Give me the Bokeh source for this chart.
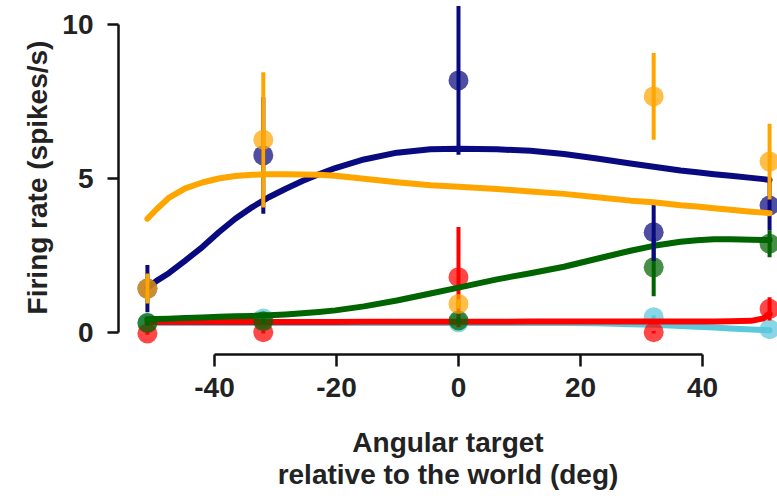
from bokeh.plotting import figure
from bokeh.models import ColumnDataSource, Range1d, FixedTicker, Title
from bokeh.embed import file_html
from bokeh.resources import INLINE

# ---- data ----
target_x = [-51, -32, 0, 32, 51]

navy_y = [1.42, 5.75, 8.19, 3.25, 4.12]
navy_err = [0.77, 1.9, 2.42, 0.93, 0.8]
orange_y = [1.42, 6.26, 0.92, 7.67, 5.55]
orange_err = [0.49, 2.2, 0.15, 1.41, 1.23]
green_y = [0.3, 0.36, 0.38, 2.11, 2.88]
green_err = [0.08, 0.08, 0.1, 0.94, 0.44]
red_y = [-0.04, 0.0, 1.79, 0.0, 0.76]
red_err = [0.04, 0.04, 1.63, 0.04, 0.38]
cyan_y = [0.3, 0.45, 0.32, 0.49, 0.1]
cyan_err = [0.04, 0.06, 0.04, 0.06, 0.04]

fit_x = [-51, -49.5, -47.5, -44.8, -42, -39.3, -36.6, -33.8, -31.1, -28.4, -25.6, -22.9,
         -20.2, -15.5, -10.1, -4.6, 0, 6.3, 11.8, 17.3, 22.7, 28.2, 32, 36.4, 39.1,
         41.9, 44.6, 48, 50, 51]
navy_fit = [1.44, 1.67, 1.92, 2.33, 2.77, 3.25, 3.69, 4.07, 4.39, 4.66, 4.92, 5.14,
            5.34, 5.62, 5.84, 5.95, 5.97, 5.95, 5.90, 5.80, 5.65, 5.49, 5.38, 5.26, 5.20,
            5.14, 5.09, 5.02, 4.98, 4.95]
orange_fit = [3.69, 4.0, 4.37, 4.68, 4.87, 5.0, 5.08, 5.12, 5.14, 5.14, 5.13, 5.12,
              5.09, 4.99, 4.88, 4.78, 4.73, 4.66, 4.58, 4.50, 4.39, 4.28, 4.23, 4.13, 4.09,
              4.03, 3.98, 3.92, 3.89, 3.87]
green_fit = [0.42, 0.43, 0.44, 0.46, 0.48, 0.50, 0.52, 0.53, 0.55, 0.58, 0.62, 0.66,
             0.71, 0.84, 1.03, 1.26, 1.45, 1.72, 1.92, 2.13, 2.39, 2.65, 2.81, 2.94, 2.99,
             3.02, 3.02, 3.01, 3.0, 3.0]
red_fit = [0.33, 0.33, 0.33, 0.33, 0.33, 0.33, 0.33, 0.33, 0.33, 0.33, 0.33, 0.33,
           0.33, 0.34, 0.34, 0.34, 0.34, 0.34, 0.35, 0.35, 0.35, 0.35, 0.35, 0.35, 0.35,
           0.35, 0.36, 0.37, 0.45, 0.6]
cyan_fit = [0.3, 0.3, 0.3, 0.3, 0.3, 0.3, 0.3, 0.3, 0.3, 0.3, 0.3, 0.3,
            0.3, 0.3, 0.3, 0.3, 0.3, 0.3, 0.3, 0.3, 0.29, 0.26, 0.24, 0.2, 0.18,
            0.15, 0.12, 0.09, 0.07, 0.06]

x_ticks = [-40, -20, 0, 20, 40]
x_tick_labels = ["-40", "-20", "0", "20", "40"]
y_ticks = [0, 5, 10]

series = [
    ("cyan", "#5BC8DC", cyan_y, cyan_err, cyan_fit),
    ("red", "#FF0000", red_y, red_err, red_fit),
    ("green", "#006400", green_y, green_err, green_fit),
    ("navy", "#0A0A80", navy_y, navy_err, navy_fit),
    ("orange", "#FFA500", orange_y, orange_err, orange_fit),
]

FONT = "Liberation Sans"
FS = "28px"
TXT = "#222222"

p = figure(width=777, height=502, output_backend="svg", toolbar_location=None,
           x_range=Range1d(-55.74, 52.3), y_range=Range1d(-0.725, 10.79),
           min_border_left=118, min_border_bottom=148, min_border_top=0,
           min_border_right=0)
p.outline_line_color = None
p.xgrid.visible = False
p.ygrid.visible = False
p.background_fill_color = "white"
p.border_fill_color = "white"

for name, col, ys, errs, fit in series:
    lo = [y - e for y, e in zip(ys, errs)]
    hi = [y + e for y, e in zip(ys, errs)]
    src = ColumnDataSource(dict(x=target_x, y=ys, lo=lo, hi=hi))
    p.segment(x0="x", y0="lo", x1="x", y1="hi", source=src, line_color=col,
              line_width=4)
    p.scatter(x="x", y="y", source=src, size=20, fill_color=col, fill_alpha=0.72,
              line_color=None)
    p.line(fit_x, fit, line_color=col, line_width=6, line_cap="round",
           line_join="round")

for ax in (p.xaxis[0], p.yaxis[0]):
    ax.axis_line_width = 2.5
    ax.axis_line_color = "#111111"
    ax.major_tick_line_width = 2.5
    ax.major_tick_line_color = "#111111"
    ax.minor_tick_line_color = None
    ax.major_tick_in = 0
    ax.major_label_text_font = FONT
    ax.major_label_text_font_style = "bold"
    ax.major_label_text_font_size = FS
    ax.major_label_text_color = TXT
    ax.axis_label_text_font = FONT
    ax.axis_label_text_font_style = "bold"
    ax.axis_label_text_font_size = FS
    ax.axis_label_text_color = TXT

p.xaxis[0].bounds = (-40, 40)
p.xaxis[0].ticker = FixedTicker(ticks=x_ticks)
p.xaxis[0].major_label_overrides = {t: s for t, s in zip(x_ticks, x_tick_labels)}
p.xaxis[0].major_tick_out = 12
p.xaxis[0].major_label_standoff = 11
p.xaxis[0].axis_label = "Angular target"
p.xaxis[0].axis_label_standoff = 27

p.add_layout(Title(text="relative to the world (deg)", align="center",
                   text_font=FONT, text_font_style="bold", text_font_size=FS,
                   text_color=TXT, standoff=-7), "below")

p.yaxis[0].bounds = (0, 10)
p.yaxis[0].ticker = FixedTicker(ticks=y_ticks)
p.yaxis[0].major_tick_out = 11
p.yaxis[0].major_label_standoff = 14

p.add_layout(Title(text="Firing rate (spikes/s)", align="center",
                   text_font=FONT, text_font_style="bold", text_font_size=FS,
                   text_color=TXT, standoff=14, offset=-15), "left")

open("out.html", "w").write(file_html(p, INLINE))
